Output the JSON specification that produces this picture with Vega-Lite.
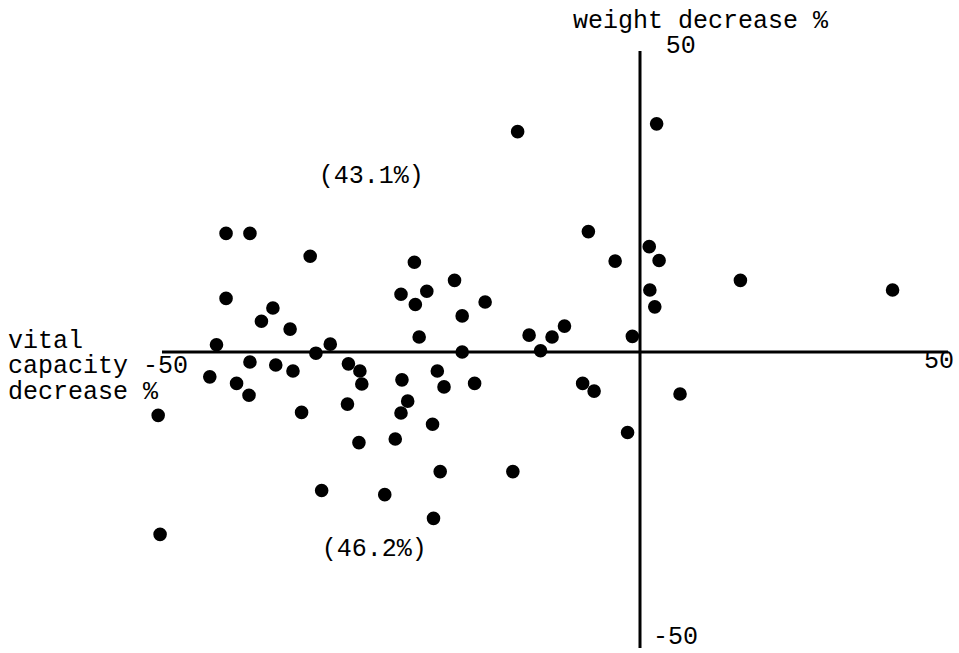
{
  "$schema": "https://vega.github.io/schema/vega-lite/v6.json",
  "width": 959,
  "height": 653,
  "autosize": {"type": "none"},
  "padding": 0,
  "background": "white",
  "config": {"view": {"stroke": null}},
  "datasets": {
    "points": [
      {"vc": -12.8, "wt": 36.6}, {"vc": 2.7, "wt": 37.9}, {"vc": -43.3, "wt": 19.7}, {"vc": -40.8, "wt": 19.7},
      {"vc": -5.4, "wt": 20.0}, {"vc": 1.5, "wt": 17.5}, {"vc": -34.5, "wt": 15.9}, {"vc": -2.6, "wt": 15.1},
      {"vc": 3.1, "wt": 15.2}, {"vc": -23.6, "wt": 14.9}, {"vc": 16.3, "wt": 11.9}, {"vc": 41.0, "wt": 10.3},
      {"vc": -19.4, "wt": 11.9}, {"vc": -43.3, "wt": 8.9}, {"vc": -25.0, "wt": 9.6}, {"vc": -22.3, "wt": 10.1},
      {"vc": -23.5, "wt": 7.9}, {"vc": -16.2, "wt": 8.3}, {"vc": 1.6, "wt": 10.3}, {"vc": -38.4, "wt": 7.3},
      {"vc": 2.4, "wt": 7.5}, {"vc": -39.6, "wt": 5.1}, {"vc": -18.6, "wt": 6.0}, {"vc": -36.6, "wt": 3.8},
      {"vc": -7.9, "wt": 4.3}, {"vc": -23.1, "wt": 2.5}, {"vc": -11.6, "wt": 2.8}, {"vc": -9.2, "wt": 2.5},
      {"vc": -0.8, "wt": 2.6}, {"vc": -44.3, "wt": 1.2}, {"vc": -32.4, "wt": 1.3}, {"vc": -18.6, "wt": 0.0},
      {"vc": -10.4, "wt": 0.2}, {"vc": -33.9, "wt": -0.2}, {"vc": -40.8, "wt": -1.7}, {"vc": -38.1, "wt": -2.2},
      {"vc": -30.5, "wt": -2.0}, {"vc": -36.3, "wt": -3.2}, {"vc": -29.3, "wt": -3.2}, {"vc": -21.2, "wt": -3.2},
      {"vc": -45.0, "wt": -4.2}, {"vc": -42.2, "wt": -5.3}, {"vc": -24.9, "wt": -4.7}, {"vc": -29.1, "wt": -5.4},
      {"vc": -17.3, "wt": -5.3}, {"vc": -20.5, "wt": -5.9}, {"vc": -40.9, "wt": -7.3}, {"vc": -6.0, "wt": -5.3},
      {"vc": -4.8, "wt": -6.6}, {"vc": 6.5, "wt": -7.1}, {"vc": -24.3, "wt": -8.3}, {"vc": -35.4, "wt": -10.2},
      {"vc": -30.6, "wt": -8.8}, {"vc": -25.0, "wt": -10.3}, {"vc": -50.4, "wt": -10.7}, {"vc": -21.7, "wt": -12.2},
      {"vc": -29.4, "wt": -15.3}, {"vc": -25.6, "wt": -14.7}, {"vc": -1.3, "wt": -13.6}, {"vc": -20.9, "wt": -20.2},
      {"vc": -13.3, "wt": -20.2}, {"vc": -33.3, "wt": -23.4}, {"vc": -26.7, "wt": -24.1}, {"vc": -21.6, "wt": -28.1},
      {"vc": -50.2, "wt": -30.8}
    ],
    "axes": [
      {"x": -50, "x2": 50, "y": 0, "y2": 0},
      {"x": 0, "x2": 0, "y": -50, "y2": 50}
    ],
    "labels": [
      {"x": -7.0, "y": 53.8, "text": "weight decrease %"},
      {"x": 4.2, "y": 49.7, "text": "50"},
      {"x": -66.1, "y": 0.7, "text": "vital\ncapacity -50\ndecrease %"},
      {"x": 46.1, "y": -2.7, "text": "50"},
      {"x": 2.1, "y": -49.4, "text": "-50"},
      {"x": -33.6, "y": 28.1, "text": "(43.1%)"},
      {"x": -33.3, "y": -34.5, "text": "(46.2%)"}
    ]
  },
  "layer": [
    {
      "data": {"name": "axes"},
      "mark": {"type": "rule", "color": "black", "strokeWidth": 3},
      "encoding": {
        "x": {"field": "x", "type": "quantitative", "scale": {"domain": [-50, 0, 50], "range": [162, 640, 948]}, "axis": null},
        "x2": {"field": "x2"},
        "y": {"field": "y", "type": "quantitative", "scale": {"domain": [-50, 0, 50], "range": [648, 352, 51]}, "axis": null},
        "y2": {"field": "y2"}
      }
    },
    {
      "data": {"name": "points"},
      "mark": {"type": "circle", "color": "black", "opacity": 1, "size": 185},
      "encoding": {
        "x": {"field": "vc", "type": "quantitative", "title": "vital capacity decrease %"},
        "y": {"field": "wt", "type": "quantitative", "title": "weight decrease %"}
      }
    },
    {
      "data": {"name": "labels"},
      "mark": {"type": "text", "align": "left", "baseline": "alphabetic", "font": "Liberation Mono", "fontSize": 25, "lineBreak": "\n", "lineHeight": 25.5, "color": "black"},
      "encoding": {
        "x": {"field": "x", "type": "quantitative"},
        "y": {"field": "y", "type": "quantitative"},
        "text": {"field": "text"}
      }
    }
  ]
}
